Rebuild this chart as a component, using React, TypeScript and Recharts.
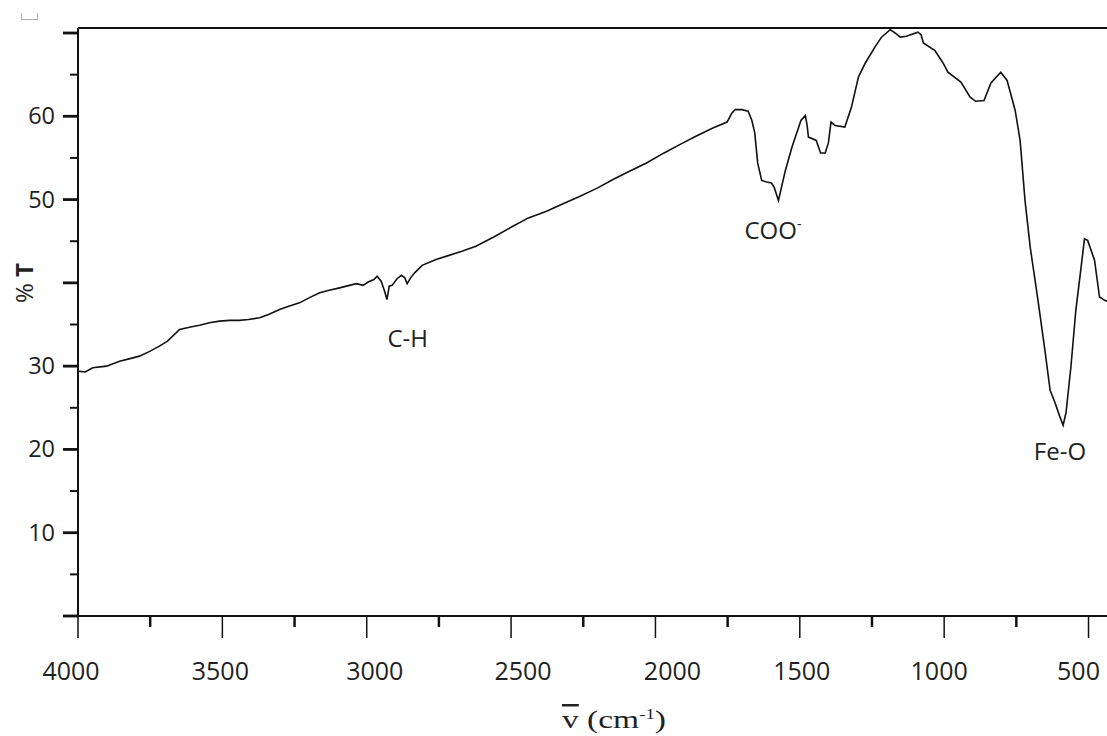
import { LineChart, Line, XAxis, YAxis, ReferenceLine, ReferenceDot, Label } from "recharts";

const WAVENUMBER = [
  4000, 3975, 3949, 3901, 3856, 3820, 3787, 3750, 3718, 3690, 3648, 3610, 3579, 3545, 3510, 3475,
  3441, 3410, 3371, 3340, 3302, 3270, 3233, 3200, 3163, 3130, 3094, 3060, 3035, 3013, 2995, 2975,
  2964, 2950, 2938, 2930, 2922, 2912, 2895, 2880, 2868, 2860, 2848, 2834, 2808, 2760, 2715, 2670,
  2622, 2560, 2494, 2440, 2377, 2320, 2261, 2200, 2147, 2090, 2031, 1970, 1916, 1860, 1801, 1752,
  1735, 1724, 1700, 1679, 1666, 1656, 1646, 1632, 1615, 1598, 1588, 1574, 1550, 1527, 1496, 1481,
  1475, 1470, 1443, 1428, 1412, 1401, 1392, 1378, 1344, 1321, 1297, 1273, 1240, 1217, 1187, 1170,
  1152, 1131, 1091, 1080, 1072, 1032, 1004, 987, 942, 910, 891, 862, 838, 804, 782, 754,
  737, 720, 702, 675, 651, 633, 616, 600, 588, 578, 561, 544, 527, 514, 503, 479,
  462, 444, 436,
];

// transmittance (%T)
const TRANSMITTANCE = [
  29.4, 29.3, 29.8, 30.0, 30.6, 30.9, 31.2, 31.8, 32.4, 33.0, 34.4, 34.7, 34.9, 35.2, 35.4, 35.5,
  35.5, 35.6, 35.8, 36.2, 36.8, 37.2, 37.6, 38.2, 38.8, 39.1, 39.4, 39.7, 39.9, 39.7, 40.1, 40.4,
  40.8, 40.2, 39.0, 38.0, 39.6, 39.7, 40.5, 40.9, 40.6, 39.9, 40.6, 41.2, 42.1, 42.8, 43.3, 43.8,
  44.4, 45.5, 46.8, 47.8, 48.6, 49.5, 50.4, 51.4, 52.4, 53.4, 54.4, 55.6, 56.6, 57.6, 58.6, 59.3,
  60.4, 60.8, 60.8, 60.6, 59.5, 58.0, 54.4, 52.3, 52.1, 52.0, 51.4, 49.9, 53.5, 56.3, 59.5, 60.1,
  59.0, 57.5, 57.1, 55.6, 55.6, 56.8, 59.3, 58.9, 58.7, 61.1, 64.7, 66.4, 68.3, 69.5, 70.4, 70.0,
  69.5, 69.6, 70.1, 69.8, 68.8, 67.9, 66.4, 65.3, 64.1, 62.3, 61.8, 61.9, 64.0, 65.3, 64.3, 60.7,
  57.1, 49.9, 44.3, 37.9, 31.9, 27.1, 25.6, 24.0, 22.9, 24.4, 29.9, 36.7, 41.5, 45.3, 45.1, 42.7,
  38.3, 37.9, 37.8,
];

const X_TICKS = [500, 750, 1000, 1250, 1500, 1750, 2000, 2250, 2500, 2750, 3000, 3250, 3500, 3750, 4000];
const Y_TICKS = [0, 5, 10, 15, 20, 25, 30, 35, 40, 45, 50, 55, 60, 65, 70];
const Y_LABELED = [10, 20, 30, 50, 60];

// the original's tick labels don't sit exactly under their ticks
const X_LABEL_SHIFT: Record<number, number> = {
  4000: -7, 3500: -2, 3000: 8, 2500: 12, 2000: 17, 1500: 2, 1000: -5, 500: -10,
};

const X_MIN = 436;
const X_MAX = 4000;
const Y_MAX = 70.6;

const PEAKS = [
  { name: "C-H", wn: 2858, t: 33.2 },
  { name: "COO", sup: "-", wn: 1593, t: 46.2 },
  { name: "Fe-O", wn: 599, t: 19.7 },
];

const data = WAVENUMBER.map((wn, i) => ({ wn, t: TRANSMITTANCE[i] }));

const FONT = "'Open Sans', 'Noto Sans', sans-serif";

function XTick(props: any) {
  const { x, y, payload } = props;
  const v = payload.value;
  const major = v % 500 === 0;
  return (
    <g>
      {major ? (
        <line x1={x} x2={x} y1={y} y2={y + 22} stroke="#111" strokeWidth={1.5} />
      ) : (
        <line x1={x} x2={x} y1={y} y2={y + 11} stroke="#111" strokeWidth={2.5} />
      )}
      {major && (
        <text
          x={x + (X_LABEL_SHIFT[v] || 0)}
          y={y + 64}
          textAnchor="middle"
          fontSize={25}
          fontFamily={FONT}
          fill="#222"
        >
          {v}
        </text>
      )}
    </g>
  );
}

function YTick(props: any) {
  const { x, y, payload } = props;
  const v = payload.value;
  const major = v % 10 === 0;
  return (
    <g>
      <line x1={x - (major ? 15 : 8)} x2={x} y1={y} y2={y} stroke="#111" strokeWidth={major ? 2.8 : 2} />
      {Y_LABELED.includes(v) && (
        <text x={x - 23} y={y + 8} textAnchor="end" fontSize={23.5} fontFamily={FONT} fill="#222">
          {v}
        </text>
      )}
    </g>
  );
}

function PeakLabel({ viewBox, name, sup }: any) {
  const cx = viewBox.x + viewBox.width / 2;
  const cy = viewBox.y + viewBox.height / 2;
  return (
    <text x={cx} y={cy + 8} textAnchor="middle" fontSize={24} fontFamily={FONT} fill="#222">
      {name}
      {sup && (
        <tspan dy={-10} fontSize={14}>
          {sup}
        </tspan>
      )}
    </text>
  );
}

export default function App() {
  return (
    <div style={{ position: "absolute", left: 0, top: 0, width: 1107, height: 736, background: "#fff" }}>
      <div
        style={{
          position: "absolute",
          left: 21,
          top: 13,
          width: 15,
          height: 6,
          borderLeft: "1px solid #aaa",
          borderRight: "1px solid #aaa",
          borderBottom: "1px solid #aaa",
        }}
      />
      <LineChart width={1107} height={736} data={data} margin={{ top: 28, right: 0, bottom: 0, left: 0 }}>
        <XAxis
          type="number"
          dataKey="wn"
          domain={[X_MIN, X_MAX]}
          reversed
          allowDataOverflow
          ticks={X_TICKS}
          interval={0}
          height={120}
          tickSize={0}
          tickMargin={0}
          tickLine={false}
          tick={<XTick />}
          axisLine={{ stroke: "#111", strokeWidth: 2 }}
        >
          <Label
            content={({ viewBox }: any) => (
              <text
                x={viewBox.x + 484}
                y={viewBox.y + 112}
                textLength={104}
                lengthAdjust="spacingAndGlyphs"
                fontSize={25}
                fontFamily="'Liberation Serif', 'DejaVu Serif', serif"
                fill="#222"
              >
                <tspan textDecoration="overline">v</tspan>
                {" (cm"}
                <tspan dy={-9} fontSize={14}>
                  {"-1"}
                </tspan>
                <tspan dy={9}>{")"}</tspan>
              </text>
            )}
          />
        </XAxis>
        <YAxis
          type="number"
          domain={[0, Y_MAX]}
          allowDataOverflow
          ticks={Y_TICKS}
          interval={0}
          width={78}
          tickSize={0}
          tickMargin={0}
          tickLine={false}
          tick={<YTick />}
          axisLine={{ stroke: "#111", strokeWidth: 2 }}
        >
          <Label
            content={({ viewBox }: any) => (
              <text
                x={23}
                y={viewBox.y + 255}
                transform={`rotate(-90, 23, ${viewBox.y + 255})`}
                textAnchor="middle"
                dominantBaseline="central"
                fontSize={24}
                fontFamily={FONT}
                fill="#222"
              >
                {"% "}
                <tspan fontWeight="bold">T</tspan>
              </text>
            )}
          />
        </YAxis>
        <ReferenceLine y={Y_MAX} stroke="#111" strokeWidth={2} ifOverflow="visible" />
        {PEAKS.map((p) => (
          <ReferenceDot
            key={p.name}
            x={p.wn}
            y={p.t}
            r={1}
            fill="none"
            stroke="none"
            label={<PeakLabel name={p.name} sup={p.sup} />}
          />
        ))}
        <Line
          type="linear"
          dataKey="t"
          stroke="#111"
          strokeWidth={1.6}
          dot={false}
          isAnimationActive={false}
        />
      </LineChart>
    </div>
  );
}
